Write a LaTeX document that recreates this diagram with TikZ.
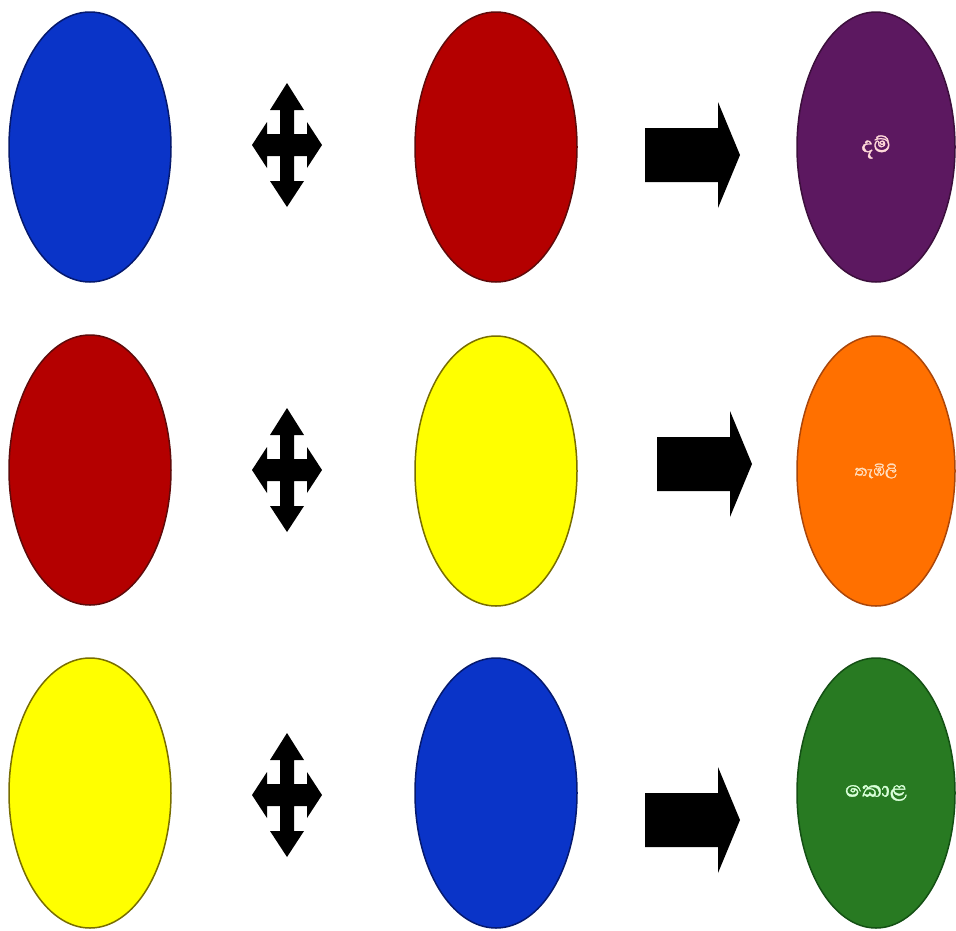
\documentclass[tikz,border=0pt]{standalone}
\usepackage{fontspec}
\newfontfamily\sinhala[Script=Sinhala, FakeBold=1.2]{Abhaya Libre}
\usetikzlibrary{shapes.geometric}
\definecolor{cblue}{RGB}{10,52,200}
\definecolor{cblueD}{RGB}{5,25,110}
\definecolor{cred}{RGB}{180,0,0}
\definecolor{credD}{RGB}{95,10,10}
\definecolor{cyel}{RGB}{255,255,0}
\definecolor{cyelD}{RGB}{120,110,0}
\definecolor{cpur}{RGB}{92,24,96}
\definecolor{cpurD}{RGB}{60,15,60}
\definecolor{cora}{RGB}{255,112,0}
\definecolor{coraD}{RGB}{170,70,10}
\definecolor{cgrn}{RGB}{40,122,34}
\definecolor{cgrnD}{RGB}{20,80,20}
\tikzset{
  blob/.style={ellipse, minimum width=162pt, minimum height=270pt, line width=1.5pt, inner sep=0pt},
  lbl/.style={font=\sinhala\fontsize{28}{30}\selectfont},
  pics/cross/.style={code={
    \fill[black] (0,-62) -- (17,-35) -- (7,-35) -- (7,-11) -- (20,-11) -- (20,-23) -- (35,0)
      -- (20,23) -- (20,11) -- (7,11) -- (7,36) -- (17,36) -- (0,62) -- (-17,36) -- (-7,36)
      -- (-7,11) -- (-20,11) -- (-20,23) -- (-35,0) -- (-20,-23) -- (-20,-11) -- (-7,-11)
      -- (-7,-35) -- (-17,-35) -- cycle;}},
  pics/rarrow/.style={code={
    \fill[black] (-47,-27) -- (26,-27) -- (26,-53) -- (48,0) -- (26,53) -- (26,27) -- (-47,27) -- cycle;}}
}
\begin{document}
\begin{tikzpicture}[x=1pt,y=-1pt]
\useasboundingbox[fill=white] (0,0) rectangle (956,930);
% row 1
\node[blob, fill=cblue, draw=cblueD] (b1) at (90,147) {};
\pic at (287,145) {cross};
\node[blob, fill=cred, draw=credD] (r1) at (496,147) {};
\pic at (692,155) {rarrow};
\node[blob, fill=cpur, draw=cpurD, minimum width=158pt] (p1) at (876,147) {};
\node[lbl, text=pink!60!white] (t1) at (p1) {දම්};
% row 2
\node[blob, fill=cred, draw=credD] (r2) at (90,470) {};
\pic at (287,470) {cross};
\node[blob, fill=cyel, draw=cyelD] (y2) at (496,471) {};
\pic at (704,464) {rarrow};
\node[blob, fill=cora, draw=coraD, minimum width=158pt] (o2) at (876,471) {};
\node[lbl, text=orange!25!white, font=\sinhala\fontsize{19}{21}\selectfont] (t2) at (o2) {තැඹිලි};
% row 3
\node[blob, fill=cyel, draw=cyelD] (y3) at (90,793) {};
\pic at (287,795) {cross};
\node[blob, fill=cblue, draw=cblueD] (b3) at (496,793) {};
\pic at (692,820) {rarrow};
\node[blob, fill=cgrn, draw=cgrnD, minimum width=158pt] (g3) at (876,793) {};
\node[lbl, text=green!15!white] (t3) at (g3) {කොළ};
\end{tikzpicture}
\end{document}
